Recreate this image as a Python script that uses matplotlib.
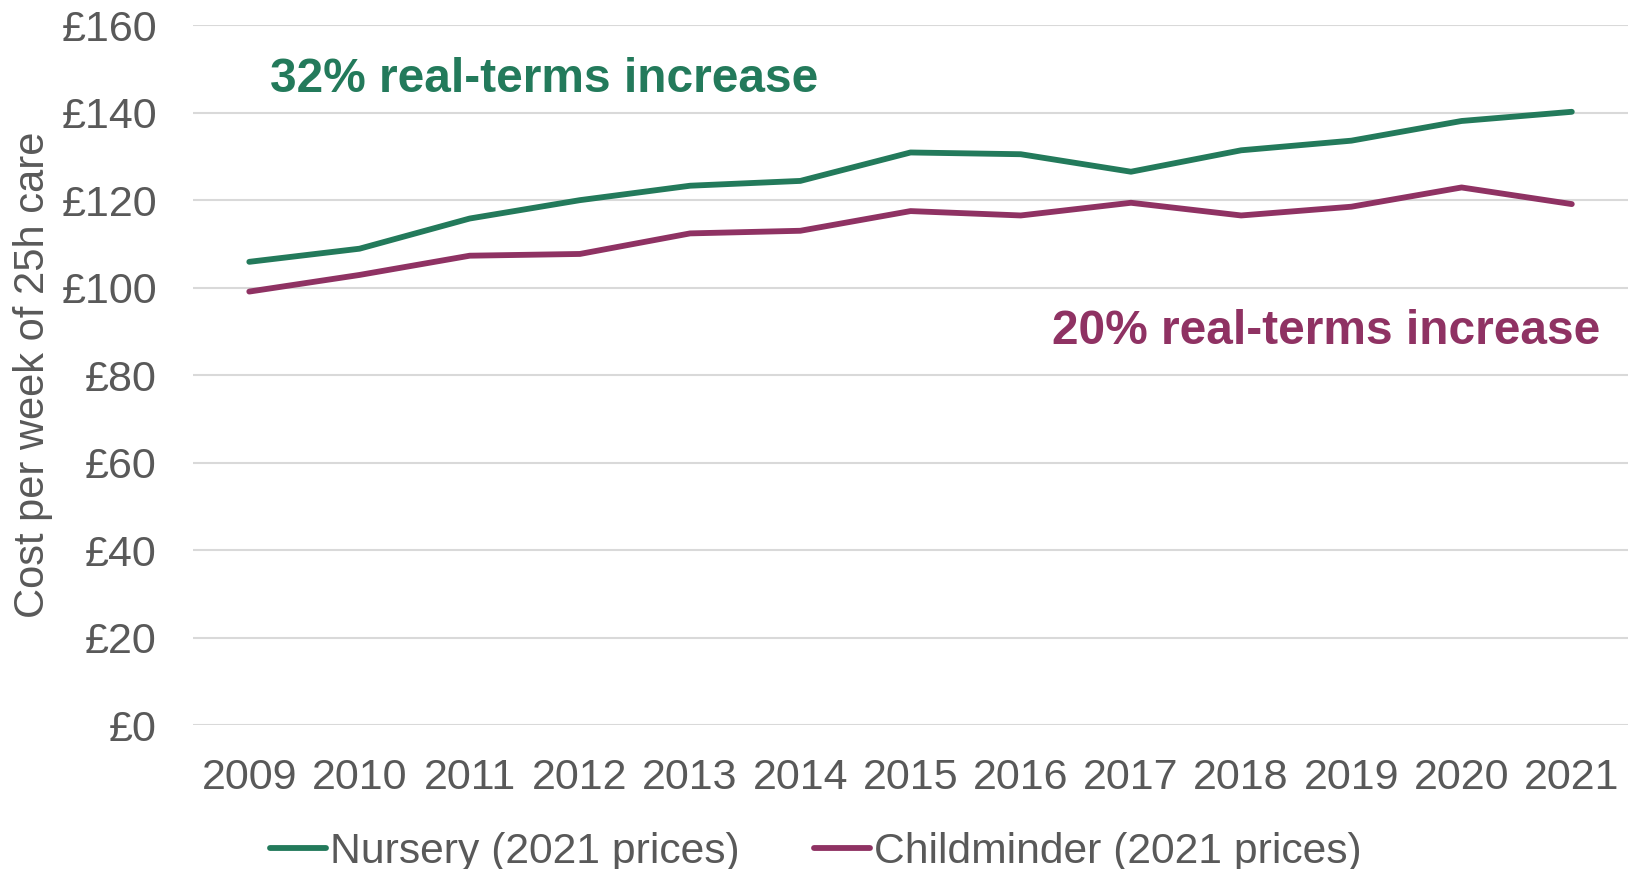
import matplotlib
matplotlib.use("Agg")
import matplotlib.pyplot as plt

plt.rcParams['font.family'] = ['Liberation Sans', 'DejaVu Sans']

years = [2009, 2010, 2011, 2012, 2013, 2014, 2015, 2016, 2017, 2018, 2019, 2020, 2021]
nursery = [105.9, 108.9, 115.8, 120.0, 123.3, 124.4, 130.9, 130.5, 126.5, 131.4, 133.6, 138.1, 140.2]
childminder = [99.1, 102.9, 107.3, 107.7, 112.4, 113.0, 117.5, 116.5, 119.4, 116.5, 118.5, 122.9, 119.1]
yticks = [0, 20, 40, 60, 80, 100, 120, 140, 160]

green = '#237A5B'
purple = '#8F3263'
grey = '#595959'

fig = plt.figure(figsize=(16.28, 8.69), dpi=100)
ax = fig.add_axes([0.1186, 0.1657, 0.8814, 0.8053])

ax.plot(years, nursery, color=green, lw=4.2, label='Nursery (2021 prices)', solid_capstyle='round')
ax.plot(years, childminder, color=purple, lw=4.2, label='Childminder (2021 prices)', solid_capstyle='round')

ax.set_xlim(2008.49, 2021.51)
ax.set_ylim(0, 160)
ax.set_yticks(yticks)
ax.set_yticklabels(['£%d' % v for v in yticks])
ax.set_xticks(years)
ax.set_xticklabels([str(y) for y in years])
ax.grid(axis='y', color='#D9D9D9', lw=1.5)
ax.set_axisbelow(True)
for s in ax.spines.values():
    s.set_visible(False)
ax.tick_params(axis='both', length=0, labelsize=31, colors=grey)
ax.tick_params(axis='y', pad=26)
ax.tick_params(axis='x', pad=24)
ax.set_ylabel('Cost per week of 25h care', fontsize=30, color=grey, labelpad=6)

ax.text(2009.19, 147.6, '32% real-terms increase', color=green, fontsize=34.5,
        fontweight='bold', va='center', ha='left')
ax.text(2021.26, 90.0, '20% real-terms increase', color=purple, fontsize=34.5,
        fontweight='bold', va='center', ha='right')

leg = fig.legend(loc='center left', bbox_to_anchor=(0.166, 0.02), ncol=2, frameon=False,
                 fontsize=30.7, handlelength=1.3, handletextpad=0.1, columnspacing=1.75,
                 borderpad=0, borderaxespad=0)
for t in leg.get_texts():
    t.set_color(grey)

fig.savefig('out.png', dpi=100)
